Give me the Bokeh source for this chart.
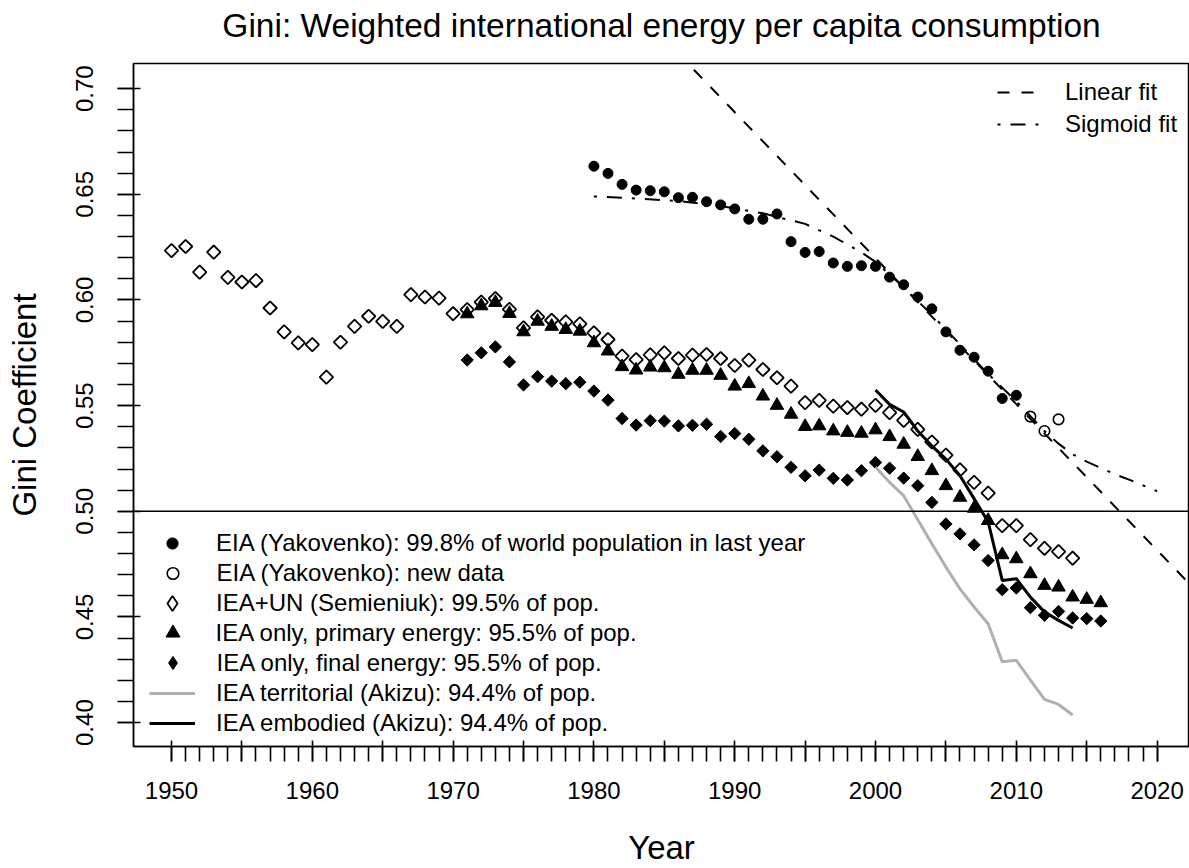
import math
from bokeh.plotting import figure
from bokeh.models import (Range1d, FixedTicker, Span, Legend, LegendItem, Title,
                          PrintfTickFormatter, CustomJSTickFormatter)
from bokeh.embed import file_html
from bokeh.resources import INLINE

FONT = "Liberation Sans"

# ---------------- data ----------------
eia_years = list(range(1980, 2011))
eia_gini = [0.6633, 0.6599, 0.6547, 0.6520, 0.6517, 0.6512, 0.6484, 0.6486, 0.6465, 0.6450,
            0.6431, 0.6382, 0.6382, 0.6407, 0.6276, 0.6225, 0.6229, 0.6175, 0.6159, 0.6162,
            0.6159, 0.6108, 0.6072, 0.6014, 0.5958, 0.5849, 0.5762, 0.5729, 0.5663, 0.5534,
            0.5549]

eia_new_years = [2011, 2012, 2013]
eia_new_gini = [0.5448, 0.5380, 0.5435]

semi_years = list(range(1950, 2015))
semi_gini = [0.6234, 0.6253, 0.6132, 0.6226, 0.6107, 0.6085, 0.6092, 0.5962, 0.5849, 0.5797,
             0.5789, 0.5635, 0.5800, 0.5875, 0.5923, 0.5899, 0.5875, 0.6025, 0.6014, 0.6009,
             0.5935, 0.5954, 0.5990, 0.6007, 0.5956, 0.5868, 0.5920, 0.5904, 0.5896, 0.5887,
             0.5844, 0.5813, 0.5734, 0.5718, 0.5740, 0.5750, 0.5723, 0.5739, 0.5742, 0.5723,
             0.5690, 0.5715, 0.5671, 0.5632, 0.5592, 0.5514, 0.5525, 0.5498, 0.5491, 0.5483,
             0.5501, 0.5467, 0.5430, 0.5388, 0.5328, 0.5266, 0.5196, 0.5137, 0.5086, 0.4932,
             0.4932, 0.4866, 0.4825, 0.4809, 0.4778]

primary_years = list(range(1971, 2017))
primary_gini = [0.5934, 0.5972, 0.5988, 0.5936, 0.5849, 0.5899, 0.5875, 0.5860, 0.5852, 0.5797,
                0.5758, 0.5684, 0.5668, 0.5682, 0.5679, 0.5648, 0.5667, 0.5667, 0.5643, 0.5592,
                0.5604, 0.5545, 0.5501, 0.5459, 0.5401, 0.5404, 0.5380, 0.5373, 0.5369, 0.5385,
                0.5353, 0.5317, 0.5259, 0.5192, 0.5121, 0.5066, 0.5014, 0.4956, 0.4794, 0.4775,
                0.4704, 0.4649, 0.4641, 0.4594, 0.4583, 0.4567]

final_years = list(range(1971, 2017))
final_gini = [0.5716, 0.5750, 0.5778, 0.5707, 0.5598, 0.5637, 0.5616, 0.5604, 0.5611, 0.5569,
              0.5526, 0.5439, 0.5408, 0.5429, 0.5427, 0.5404, 0.5407, 0.5412, 0.5354, 0.5368,
              0.5341, 0.5286, 0.5258, 0.5208, 0.5168, 0.5195, 0.5156, 0.5148, 0.5192, 0.5231,
              0.5204, 0.5157, 0.5121, 0.5042, 0.4940, 0.4893, 0.4841, 0.4767, 0.4629, 0.4637,
              0.4544, 0.4508, 0.4526, 0.4495, 0.4492, 0.4481]

akizu_years = list(range(2000, 2015))
territorial_gini = [0.5208, 0.5137, 0.5074, 0.4960, 0.4847, 0.4736, 0.4633, 0.4547, 0.4468,
                    0.4288, 0.4295, 0.4201, 0.4110, 0.4086, 0.4036]
embodied_gini = [0.5574, 0.5506, 0.5470, 0.5380, 0.5310, 0.5247, 0.5168, 0.5060, 0.4950,
                 0.4673, 0.4681, 0.4594, 0.4524, 0.4484, 0.4448]

linear_fit_years = [1980, 2025]
linear_fit_gini = [0.758, 0.447]

sigmoid_fit_years = [1980, 1983, 1986, 1989, 1992, 1995, 1997, 1999, 2000, 2002, 2004, 2006,
                     2008, 2010, 2012, 2013, 2014, 2015, 2016, 2017, 2018, 2020]
sigmoid_fit_gini = [0.6490, 0.6480, 0.6468, 0.6445, 0.6410, 0.6360, 0.6300, 0.6225, 0.6180,
                    0.6060, 0.5930, 0.5790, 0.5650, 0.5520, 0.5380, 0.5320, 0.5270, 0.5235,
                    0.5205, 0.5175, 0.5150, 0.5095]

x_major_ticks = list(range(1950, 2021, 5))
x_minor_ticks = list(range(1950, 2021))
y_major_ticks = [0.40, 0.45, 0.50, 0.55, 0.60, 0.65, 0.70]
y_minor_ticks = [round(0.40 + 0.01 * i, 2) for i in range(31)]

title_text = "Gini: Weighted international energy per capita consumption"
labels = ["EIA (Yakovenko): 99.8% of world population in last year",
          "EIA (Yakovenko): new data",
          "IEA+UN (Semieniuk): 99.5% of pop.",
          "IEA only, primary energy: 95.5% of pop.",
          "IEA only, final energy: 95.5% of pop.",
          "IEA territorial (Akizu): 94.4% of pop.",
          "IEA embodied (Akizu): 94.4% of pop."]

# ---------------- figure ----------------
FRAME_LEFT, FRAME_TOP, FRAME_BOTTOM = 133, 63, 748
p = figure(width=1189, height=868, output_backend="svg", toolbar_location=None, title=None,
           x_range=Range1d(1947.30, 2022.30), y_range=Range1d(0.3887, 0.7119),
           min_border_left=FRAME_LEFT, min_border_right=0, min_border_top=FRAME_TOP,
           min_border_bottom=868 - FRAME_BOTTOM)

p.background_fill_color = "white"
p.border_fill_color = "white"
p.outline_line_color = "black"
p.outline_line_width = 1.5
p.xgrid.visible = False
p.ygrid.visible = False

# a small blank spacer between frame and title lifts the title to the reference height
p.add_layout(Title(text=" ", text_font=FONT, text_font_size="10px", standoff=4), "above")
p.add_layout(Title(text=title_text, align="center", text_font=FONT,
                   text_font_size="33.5px", text_font_style="normal",
                   text_color="black", standoff=6), "above")

for ax in (p.xaxis[0], p.yaxis[0]):
    ax.axis_line_color = "black"
    ax.axis_line_width = 1.5
    ax.major_tick_line_color = "black"
    ax.minor_tick_line_color = "black"
    ax.major_tick_line_width = 1.6
    ax.minor_tick_line_width = 1.6
    ax.major_label_text_font = FONT
    ax.major_label_text_font_size = "24px"
    ax.major_label_text_color = "black"
    ax.axis_label_text_font = FONT
    ax.axis_label_text_font_size = "33px"
    ax.axis_label_text_font_style = "normal"
    ax.axis_label_text_color = "black"

xa = p.xaxis[0]
xa.ticker = FixedTicker(ticks=x_major_ticks, minor_ticks=x_minor_ticks)
xa.formatter = CustomJSTickFormatter(code="return (tick % 10 == 0) ? tick.toFixed(0) : '';")
xa.major_tick_in = 6
xa.major_tick_out = 15
xa.minor_tick_in = 0
xa.minor_tick_out = 15
xa.major_label_standoff = 20
xa.axis_label = "Year"
xa.axis_label_standoff = 27

ya = p.yaxis[0]
ya.ticker = FixedTicker(ticks=y_major_ticks, minor_ticks=y_minor_ticks)
ya.formatter = PrintfTickFormatter(format="%.2f")
ya.major_tick_in = 7
ya.major_tick_out = 16
ya.minor_tick_in = 0
ya.minor_tick_out = 16
ya.major_label_orientation = "parallel"
ya.major_label_standoff = 24
ya.axis_label = "Gini Coefficient"
ya.axis_label_standoff = 31

p.add_layout(Span(location=0.5, dimension="width", line_color="black", line_width=1.5))

r_semi = p.scatter(semi_years, semi_gini, marker="square", angle=math.pi / 4, size=9.5,
                   fill_color=None, line_color="black", line_width=1.8)
r_prim = p.scatter(primary_years, primary_gini, marker="triangle", size=13.5,
                   fill_color="black", line_color="black", line_width=1)
r_final = p.scatter(final_years, final_gini, marker="square", angle=math.pi / 4, size=8.7,
                    fill_color="black", line_color="black", line_width=1)
r_terr = p.line(akizu_years, territorial_gini, line_color="#b0b0b0", line_width=3)
r_emb = p.line(akizu_years, embodied_gini, line_color="black", line_width=3)
r_eia = p.scatter(eia_years, eia_gini, marker="circle", size=10, fill_color="black",
                  line_color="black", line_width=1)
r_new = p.scatter(eia_new_years, eia_new_gini, marker="circle", size=10.5, fill_color=None,
                  line_color="black", line_width=1.6)
r_lin = p.line(linear_fit_years, linear_fit_gini, line_color="black", line_width=2,
               line_dash="12 12")
r_sig = p.line(sigmoid_fit_years, sigmoid_fit_gini, line_color="black", line_width=2,
               line_dash="3 10 15 10")

# legend-key renderers: same data drawn at zero size (invisible in the plot); the
# legend draws its own key size, so the keys show diamonds
k_semi = p.scatter(semi_years, semi_gini, marker="diamond", size=0, fill_color=None,
                   line_color="black", line_width=1.8)
k_final = p.scatter(final_years, final_gini, marker="diamond", size=0, fill_color="black",
                    line_color="black", line_width=1)

# bottom-left legend: one Legend per row so every key can be sized like the reference
rows = [(labels[0], r_eia, 28, 32),
        (labels[1], r_new, 29, 32),
        (labels[2], k_semi, 38, 38),
        (labels[3], r_prim, 35, 35),
        (labels[4], k_final, 33, 33),
        (labels[5], r_terr, 46, 32),
        (labels[6], r_emb, 46, 32)]
KEY_X, TEXT_X, ROW0, PITCH = 172, 216, 544.5, 30.1
for i, (lab, rend, gw, gh) in enumerate(rows):
    cy = ROW0 + PITCH * i
    lx = KEY_X - FRAME_LEFT - gw / 2.0
    ly = FRAME_BOTTOM - (cy + gh / 2.0)
    leg = Legend(items=[LegendItem(label=lab, renderers=[rend])],
                 location=(lx, ly), orientation="vertical",
                 glyph_width=gw, glyph_height=gh, label_height=gh, spacing=0,
                 padding=0, margin=0,
                 label_standoff=int(round(TEXT_X - FRAME_LEFT - lx - gw)),
                 label_text_font=FONT, label_text_font_size="24px",
                 label_text_color="black", border_line_color=None,
                 background_fill_alpha=0)
    p.add_layout(leg, "center")

leg2 = Legend(items=[LegendItem(label="Linear fit", renderers=[r_lin]),
                     LegendItem(label="Sigmoid fit", renderers=[r_sig])],
              location=(864, 608.5), orientation="vertical",
              glyph_width=43, glyph_height=28, label_height=28, spacing=4,
              padding=0, margin=0, label_standoff=25,
              label_text_font=FONT, label_text_font_size="24px", label_text_color="black",
              border_line_color=None, background_fill_alpha=0)
p.add_layout(leg2, "center")

open("out.html", "w").write(file_html(p, INLINE, title="Gini energy"))
